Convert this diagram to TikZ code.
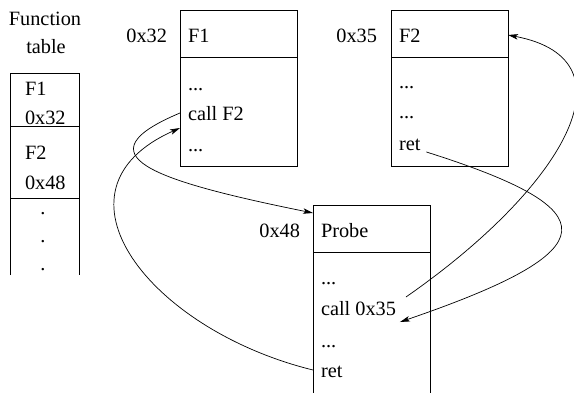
\documentclass[tikz,border=0pt]{standalone}
\usepackage{fontspec}
\setmainfont{Liberation Serif}
\usetikzlibrary{arrows.meta}
\begin{document}
\begin{tikzpicture}[x=1pt,y=-1pt,
  every node/.style={inner sep=0pt,outer sep=0pt,font=\fontsize{20.3}{24}\selectfont},
  txt/.style={anchor=base west},
  lbl/.style={anchor=base east},
  frame/.style={draw,line width=0.8pt},
  link/.style={line width=0.7pt,-{Stealth[length=10pt,width=5.5pt,inset=2.5pt]}},
  plain/.style={line width=0.7pt}]
\useasboundingbox (0,0) rectangle (574,392);

% function table (open at the bottom)
\node[anchor=base] (fn) at (45,25) {Function};
\node[anchor=base] (tb) at (46,53) {table};
\draw[frame] (10,275) -- (10,73) -- (79,73) -- (79,275);
\draw[frame] (10,126) -- (79,126);
\draw[frame] (10,198) -- (79,198);
\node[txt] (tf1) at (25,95) {F1};
\node[txt] (ta1) at (25,124) {0x32};
\node[txt] (tf2) at (25,159) {F2};
\node[txt] (ta2) at (25,189) {0x48};
\node[anchor=base] (d1) at (43,214) {.};
\node[anchor=base] (d2) at (43,242) {.};
\node[anchor=base] (d3) at (43,270) {.};

% F1
\node[frame,anchor=north west,minimum width=117pt,minimum height=156pt] (f1) at (180,10) {};
\draw[frame] (180,57) -- (297,57);
\node[lbl] (a1) at (167,42) {0x32};
\node[txt] (n1) at (188,42) {F1};
\node[txt] (f1d1) at (188,90) {...};
\node[txt] (callf2) at (188,120) {call F2};
\node[txt] (f1d2) at (188,151) {...};

% F2
\node[frame,anchor=north west,minimum width=117pt,minimum height=156pt] (f2) at (391,10) {};
\draw[frame] (391,57) -- (508,57);
\node[lbl] (a2) at (377,42) {0x35};
\node[txt] (n2) at (399,42) {F2};
\node[txt] (f2d1) at (399,88) {...};
\node[txt] (f2d2) at (399,118) {...};
\node[txt] (ret2) at (399,150) {ret};

% Probe (runs past the bottom edge)
\node[frame,anchor=north west,minimum width=117pt,minimum height=200pt] (pr) at (313,205) {};
\draw[frame] (313,252) -- (430,252);
\node[lbl] (a3) at (300,237) {0x48};
\node[txt] (n3) at (321,237) {Probe};
\node[txt] (prd1) at (321,284) {...};
\node[txt] (call35) at (321,315) {call 0x35};
\node[txt] (prd2) at (321,347) {...};
\node[txt] (retp) at (321,377) {ret};

% control flow
\draw[link] (f1.west |- 0,113) .. controls (80,155) and (150,180) .. (pr.west |- 0,213);
\draw[link] (pr.west |- 0,370) .. controls (150,330) and (40,190) .. (f1.west |- 0,128);
\draw[link] ([xshift=10pt]call35.east |- 0,297) .. controls (560,190) and (640,60) .. (f2.east |- 0,35);
\draw[link] ([xshift=6pt]ret2.east |- 0,152) .. controls (610,210) and (610,250) .. ([xshift=4pt]call35.east |- 0,322);
\end{tikzpicture}
\end{document}
